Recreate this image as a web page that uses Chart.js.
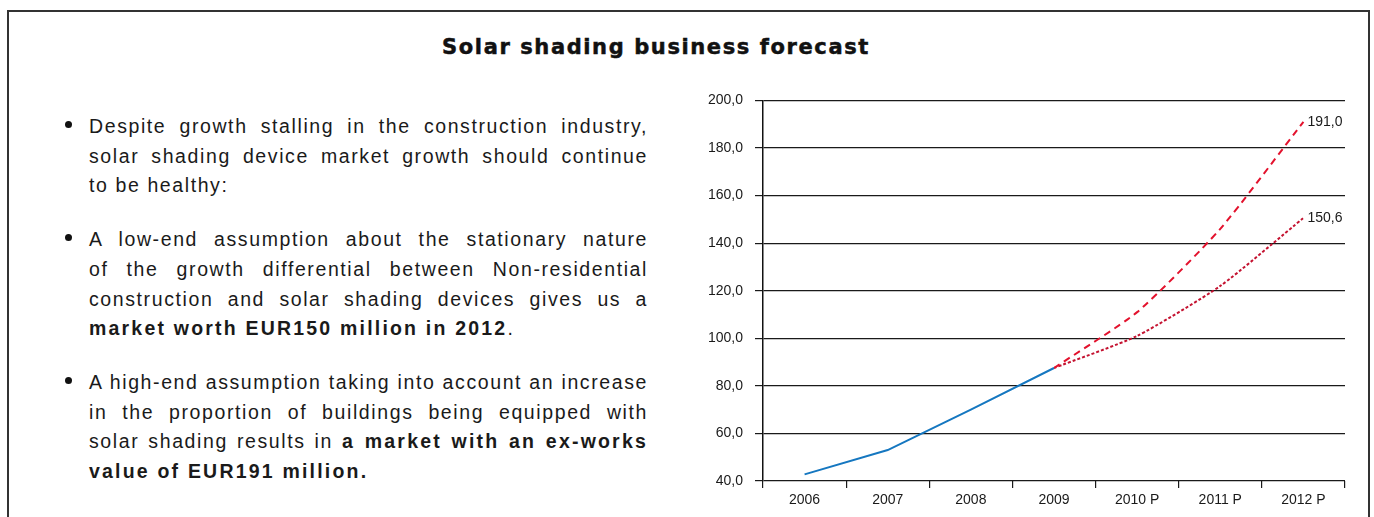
<!DOCTYPE html>
<html>
<head>
<meta charset="utf-8">
<script src="https://cdn.jsdelivr.net/npm/chart.js@4"></script>
<style>
  body { margin: 0; width: 1374px; height: 517px; background: #fff; position: relative; overflow: hidden; font-family: "Liberation Sans", Arial, sans-serif; color: #1a1a1a; }
  #frame { position: absolute; left: 7px; top: 10px; width: 1359px; height: 540px; border: 2px solid #333; }
  #title { position: absolute; left: 356px; top: 34px; width: 600px; text-align: center; font-family: "DejaVu Sans", sans-serif; font-weight: bold; font-size: 21px; letter-spacing: 1.6px; line-height: 26px; color: #111; -webkit-text-stroke: 0.5px #111; }
  #notes { position: absolute; left: 89px; top: 112px; width: 559px; font-size: 19.5px; letter-spacing: 1.6px; line-height: 29.7px; }
  .para { position: relative; margin-bottom: 24px; }
  .para::before { content: ""; position: absolute; left: -24px; top: 9px; width: 7px; height: 7px; border-radius: 50%; background: #111; }
  .ln { text-align: justify; text-align-last: justify; white-space: nowrap; }
  .ln.last { text-align-last: left; }
  b { font-weight: bold; letter-spacing: 2.2px; }
  #box { position: absolute; left: 690px; top: 80px; width: 680px; height: 437px; }
</style>
</head>
<body>
<div id="frame"></div>
<div id="title">Solar shading business forecast</div>
<div id="notes">
  <div class="para">
    <div class="ln">Despite growth stalling in the construction industry,</div>
    <div class="ln">solar shading device market growth should continue</div>
    <div class="ln last">to be healthy:</div>
  </div>
  <div class="para">
    <div class="ln">A low-end assumption about the stationary nature</div>
    <div class="ln">of the growth differential between Non-residential</div>
    <div class="ln">construction and solar shading devices gives us a</div>
    <div class="ln last"><b>market worth EUR150 million in 2012</b>.</div>
  </div>
  <div class="para">
    <div class="ln">A high-end assumption taking into account an increase</div>
    <div class="ln">in the proportion of buildings being equipped with</div>
    <div class="ln">solar shading results in <b>a market with an ex-works</b></div>
    <div class="ln last"><b>value of EUR191 million.</b></div>
  </div>
</div>
<div id="box"><canvas id="myChart"></canvas></div>
<script>
const years = ['2006', '2007', '2008', '2009', '2010 P', '2011 P', '2012 P'];
const actual = [42.8, 53, 70, 87.5, null, null, null];
const highCase = [null, null, null, 87.5, 111, 146, 191];
const lowCase = [null, null, null, 87.5, 101, 122, 150.6];

const fmt = v => v.toFixed(1).replace('.', ',');

// label at the end of each forecast line
const endLabels = {
  id: 'endLabels',
  afterDatasetsDraw(chart) {
    const ctx = chart.ctx;
    ctx.save();
    ctx.font = '14px "Liberation Sans", Arial, sans-serif';
    ctx.fillStyle = '#1a1a1a';
    ctx.textAlign = 'left';
    ctx.textBaseline = 'middle';
    [1, 2].forEach(i => {
      const data = chart.data.datasets[i].data;
      const pts = chart.getDatasetMeta(i).data;
      const last = data.length - 1;
      ctx.fillText(fmt(data[last]), pts[last].x + 4, pts[last].y);
    });
    ctx.restore();
  }
};

const ctx = document.getElementById('myChart').getContext('2d');
const chart = new Chart(ctx, {
  type: 'line',
  data: {
    labels: years,
    datasets: [
      {
        label: 'Actual',
        data: actual,
        borderColor: '#1577c0',
        borderWidth: 2,
        pointRadius: 0,
        tension: 0
      },
      {
        label: 'High',
        data: highCase,
        borderColor: '#e3122d',
        borderWidth: 2,
        borderDash: [7, 5],
        pointRadius: 0,
        tension: 0.2
      },
      {
        label: 'Low',
        data: lowCase,
        borderColor: '#c41230',
        borderWidth: 2,
        borderDash: [3, 2],
        pointRadius: 0,
        tension: 0.2
      }
    ]
  },
  options: {
    responsive: true,
    maintainAspectRatio: false,
    animation: false,
    layout: { padding: { top: 19, right: 25, left: 0, bottom: 0 } },
    plugins: { legend: { display: false }, tooltip: { enabled: false } },
    scales: {
      x: {
        offset: true,
        grid: { offset: true, drawOnChartArea: false, drawTicks: true, tickLength: 7, color: '#1a1a1a', lineWidth: 1.2 },
        border: { display: false },
        ticks: { color: '#1a1a1a', font: { family: '"Liberation Sans", Arial, sans-serif', size: 14 }, padding: 4, maxRotation: 0 },
        afterFit: scale => { scale.height = 36; }
      },
      y: {
        min: 40,
        max: 200,
        ticks: { stepSize: 20, callback: v => fmt(v), color: '#1a1a1a', font: { family: '"Liberation Sans", Arial, sans-serif', size: 14 }, padding: 12 },
        grid: { color: '#1a1a1a', lineWidth: 1.2, tickLength: 8 },
        border: { display: true, color: '#111', width: 1.5 },
        afterFit: scale => { scale.width = 73; }
      }
    }
  },
  plugins: [endLabels]
});
</script>
</body>
</html>
